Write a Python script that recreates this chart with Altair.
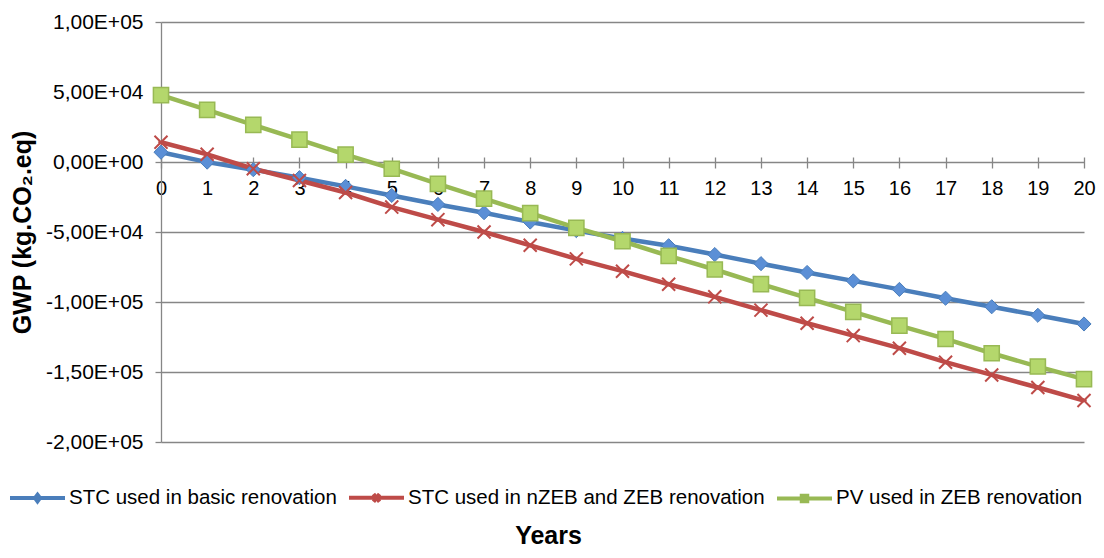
import altair as alt
import pandas as pd

years = list(range(21))
series_names = [
    "STC used in basic renovation",
    "STC used in nZEB and ZEB renovation",
    "PV used in ZEB renovation",
]
stc_basic = [7000, -100, -5500, -11200, -17400, -23900, -30300, -36200, -42900, -49000,
             -54600, -59800, -66100, -72600, -78900, -84900, -91000, -97300, -103400, -109500, -115700]
stc_nzeb = [14100, 5500, -4800, -13200, -21800, -32200, -41200, -50000, -59500, -69200,
            -78000, -87300, -96300, -105800, -115200, -124000, -133000, -143000, -152100, -161100, -170400]
pv_zeb = [47800, 37200, 26500, 16000, 5300, -4800, -15600, -26200, -36500, -47100,
          -56600, -67100, -76800, -87200, -97000, -107000, -116900, -126400, -136600, -146100, -155100]

y_ticks = [100000, 50000, 0, -50000, -100000, -150000, -200000]
y_tick_labels = ["1,00E+05", "5,00E+04", "0,00E+00", "-5,00E+04", "-1,00E+05", "-1,50E+05", "-2,00E+05"]

line_colors = ["#4a7ebb", "#be4b48", "#98b954"]
marker_fills = ["#5b8fd6", "#be4b48", "#b4d76c"]
legend_paths = [
    "M-1,0H1M0,-0.12L0.09,0L0,0.12L-0.09,0Z",
    "M-1,0H1M-0.11,-0.14L0.11,0.14M-0.11,0.14L0.11,-0.14",
    "M-1,0H1M-0.1,-0.1H0.1V0.1H-0.1Z",
]

rows = []
for name, vals in zip(series_names, [stc_basic, stc_nzeb, pv_zeb]):
    for yr, v in zip(years, vals):
        rows.append({"year": yr, "value": v, "series": name})
df = pd.DataFrame(rows)

label_expr = " : ".join(f"datum.value == {v} ? '{l}'" for v, l in zip(y_ticks, y_tick_labels)) + " : ''"

FONT = "Liberation Sans"
GRAY = "#868686"

x_enc = alt.X(
    "year:Q",
    scale=alt.Scale(domain=[0, 20], nice=False),
    axis=alt.Axis(
        values=years, format="d", offset=-285, domain=False, grid=False,
        tickSize=11, tickColor=GRAY, tickWidth=1.3,
        labelPadding=10, labelFontSize=20, labelFont=FONT, labelColor="#000000",
        labelFlush=False, labelOverlap=False,
        title="Years", titleX=387, titleY=378, titleAlign="center", titleBaseline="middle",
        titleFontSize=25, titleFont=FONT, titleFontWeight="bold", titleColor="#000000",
    ),
)
y_enc = alt.Y(
    "value:Q",
    scale=alt.Scale(domain=[-200000, 100000], nice=False, zero=False),
    axis=alt.Axis(
        values=y_ticks, labelExpr=label_expr,
        grid=True, gridColor=GRAY, gridWidth=1.3,
        domainColor=GRAY, domainWidth=1.3,
        tickColor=GRAY, tickSize=6, tickWidth=1.3,
        labelPadding=12, labelFontSize=21, labelFont=FONT, labelColor="#000000",
        title="GWP (kg.CO₂.eq)", titleX=-139, titleY=210, titleAngle=-90,
        titleAlign="center", titleBaseline="middle",
        titleFontSize=25, titleFont=FONT, titleFontWeight="bold", titleColor="#000000",
    ),
)

base = alt.Chart(df)

leg = alt.Legend(
    orient="none", legendX=-153, legendY=446, direction="horizontal", columns=3,
    title=None, symbolSize=3025, symbolStrokeWidth=4, labelFontSize=20.5, labelFont=FONT,
    labelColor="#000000", labelOffset=2, columnPadding=4, padding=0, labelLimit=600,
)

lines = base.mark_line(strokeWidth=4.5).encode(
    x=x_enc, y=y_enc,
    stroke=alt.Stroke("series:N", scale=alt.Scale(domain=series_names, range=line_colors), legend=leg),
    shape=alt.Shape("series:N", scale=alt.Scale(domain=series_names, range=legend_paths), legend=leg),
)

blue_pts = base.transform_filter(alt.datum.series == series_names[0]).mark_point(
    shape="diamond", filled=True, size=200, fill=marker_fills[0], stroke=line_colors[0],
    strokeWidth=1, opacity=1,
).encode(x=x_enc, y=y_enc)

red_pts = base.transform_filter(alt.datum.series == series_names[1]).mark_point(
    shape="M-1,-1L1,1M-1,1L1,-1", filled=False, size=170, stroke=line_colors[1],
    strokeWidth=2, opacity=1,
).encode(x=x_enc, y=y_enc)

green_pts = base.transform_filter(alt.datum.series == series_names[2]).mark_point(
    shape="square", filled=True, size=230, fill=marker_fills[2], stroke=line_colors[2],
    strokeWidth=1.5, opacity=1,
).encode(x=x_enc, y=y_enc)

chart = alt.layer(lines, blue_pts, red_pts, green_pts).properties(
    width=923, height=420,
    autosize=alt.AutoSizeParams(type="none"),
    padding={"left": 153, "top": 14, "right": 12, "bottom": 106},
).configure_view(stroke=None)

chart.save("out.html", embed_options={"renderer": "svg", "actions": False})
